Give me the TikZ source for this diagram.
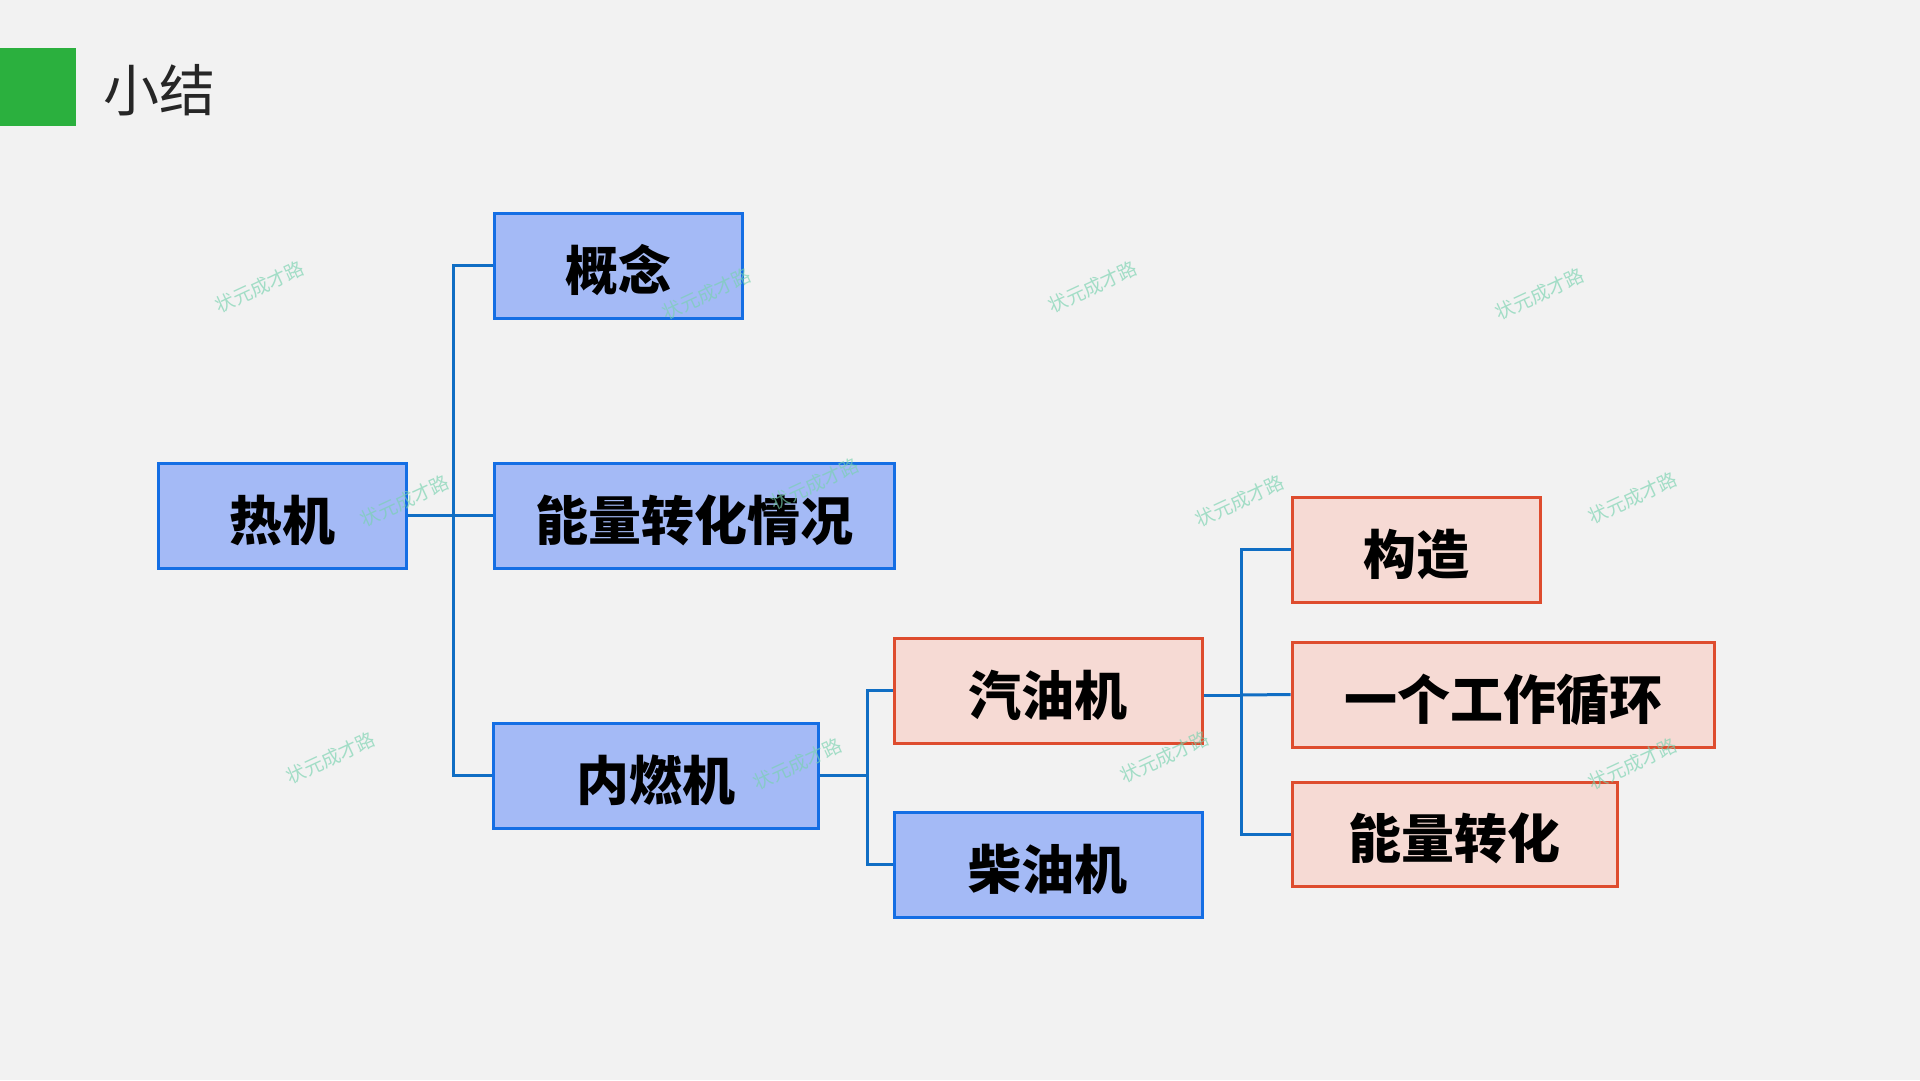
\documentclass[tikz,border=0pt]{standalone}
\usepackage{fontspec}
\newfontfamily\cjk{Noto Sans CJK SC}
\definecolor{bg}{RGB}{242,242,242}
\definecolor{grn}{RGB}{43,176,62}
\definecolor{bfill}{RGB}{164,186,246}
\definecolor{bline}{RGB}{20,110,228}
\definecolor{pfill}{RGB}{246,218,212}
\definecolor{pline}{RGB}{222,76,46}
\definecolor{conn}{RGB}{16,110,196}
\definecolor{wm}{RGB}{120,210,175}
\tikzset{
  box/.style={draw, line width=3pt, inner sep=0pt, minimum height=105pt,
    text height=56pt, text depth=6.5pt,
    font=\cjk\bfseries\fontsize{53}{60}\selectfont, text=black},
  bbox/.style={box, fill=bfill, draw=bline},
  pbox/.style={box, fill=pfill, draw=pline},
  link/.style={draw=conn, line width=3pt},
  wmark/.style={text=wm, opacity=0.65, rotate=25, font=\cjk\fontsize{19}{20}\selectfont, inner sep=0pt}
}
\begin{document}
\begin{tikzpicture}[x=1pt,y=-1pt]
\fill[bg] (0,0) rectangle (1920,1080);
\useasboundingbox (0,0) rectangle (1920,1080);
\fill[grn] (0,48) rectangle (76,126);
\node[anchor=west, inner sep=0pt, text={rgb,255:red,38;green,38;blue,38}, font=\cjk\fontsize{56}{60}\selectfont] (title) at (103,90) {小结};

\node[bbox, minimum width=248pt] (rj) at (282,515.5) {热机};
\node[bbox, minimum width=248pt] (gn) at (618,265.5) {概念};
\node[bbox, minimum width=400pt] (nl) at (694,515.5) {能量转化情况};
\node[bbox, minimum width=325pt] (nr) at (655.5,775.5) {内燃机};
\node[pbox, minimum width=308pt] (qy) at (1048,690.5) {汽油机};
\node[bbox, minimum width=308pt] (cy) at (1048,864.5) {柴油机};
\node[pbox, minimum width=248pt] (gz) at (1416,549.5) {构造};
\node[pbox, minimum width=422pt] (xh) at (1503,694.5) {一个工作循环};
\node[pbox, minimum width=325pt, minimum height=104pt] (zh) at (1454.5,834) {能量转化};

\coordinate (j1) at (453,515.5);
\coordinate (j2) at (867,775.5);
\coordinate (j3) at (1241,695);

\draw[link] (rj.east) -- (j1);
\draw[link] (j1) |- (gn.west);
\draw[link] (j1) -- (nl.west);
\draw[link] (j1) |- (nr.west);
\draw[link] (nr.east) -- (j2);
\draw[link] (j2) |- (qy.west);
\draw[link] (j2) |- (cy.west);
\draw[link] (qy.east |- j3) -- (j3);
\draw[link] (j3) |- (gz.west);
\draw[link] (j3) -- (xh.west);
\draw[link] (j3) |- (zh.west);

\node[wmark] (w1) at (260,287) {状元成才路};
\node[wmark] (w2) at (707,294) {状元成才路};
\node[wmark] (w3) at (1093,287) {状元成才路};
\node[wmark] (w4) at (1540,294) {状元成才路};
\node[wmark] (w5) at (405,501) {状元成才路};
\node[wmark] (w6) at (815,484) {状元成才路};
\node[wmark] (w7) at (1240,501) {状元成才路};
\node[wmark] (w8) at (1633,498) {状元成才路};
\node[wmark] (w9) at (331,758) {状元成才路};
\node[wmark] (w10) at (798,764) {状元成才路};
\node[wmark] (w11) at (1165,757) {状元成才路};
\node[wmark] (w12) at (1633,764) {状元成才路};
\end{tikzpicture}
\end{document}
